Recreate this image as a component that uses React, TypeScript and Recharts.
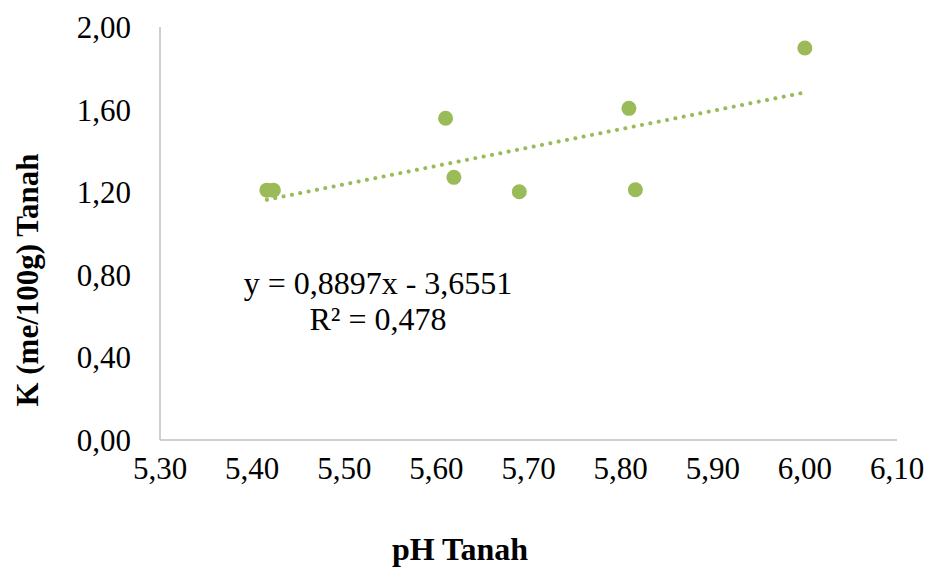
import { ScatterChart, Scatter, XAxis, YAxis, ReferenceLine } from "recharts";

// pH vs K measurements
const phValues = [5.416, 5.423, 5.61, 5.619, 5.69, 5.809, 5.816, 6.0];
const kValues = [1.21, 1.21, 1.558, 1.272, 1.202, 1.606, 1.212, 1.898];

const xTicks = [5.3, 5.4, 5.5, 5.6, 5.7, 5.8, 5.9, 6.0, 6.1];
const yTicks = [0, 0.4, 0.8, 1.2, 1.6, 2.0];

// linear trend (from the equation shown on the chart)
const TREND_SLOPE = 0.8897;
const TREND_INTERCEPT = -3.6551;
const TREND_R2 = 0.478;

const GREEN = "#9BBB59";
const AXIS = "#BFBFBF";
const FONT = "'Liberation Serif', 'Times New Roman', serif";

const W = 925;
const H = 568;

const comma = (v: number, d = 2) => v.toFixed(d).replace(".", ",");

const points = phValues.map((x, i) => ({ x, y: kValues[i] }));

const xMin = Math.min(...phValues);
const xMax = Math.max(...phValues);
const trendSeg = [
  { x: xMin, y: TREND_SLOPE * xMin + TREND_INTERCEPT },
  { x: xMax, y: TREND_SLOPE * xMax + TREND_INTERCEPT },
];

const Dot = (props: any) => {
  const { cx, cy } = props;
  if (cx == null || cy == null) return null;
  return <circle cx={cx} cy={cy} r={7.5} fill={GREEN} />;
};

export default function App() {
  const tickStyle = { fill: "#000", fontSize: 31, fontFamily: FONT };
  return (
    <div style={{ position: "absolute", left: 0, top: 0, width: W, height: H, background: "#fff" }}>
      <ScatterChart width={W} height={H} margin={{ top: 27, right: 28, left: 0, bottom: 0 }}>
        <XAxis
          type="number"
          dataKey="x"
          domain={[5.3, 6.1]}
          ticks={xTicks}
          tickFormatter={(v: number) => comma(v)}
          tick={tickStyle}
          tickLine={false}
          tickSize={0}
          tickMargin={17}
          height={128}
          stroke={AXIS}
          strokeWidth={1.5}
          interval={0}
        />
        <YAxis
          type="number"
          dataKey="y"
          domain={[0, 2]}
          ticks={yTicks}
          tickFormatter={(v: number) => comma(v)}
          tick={tickStyle}
          tickLine={false}
          tickSize={0}
          tickMargin={29}
          width={160}
          stroke={AXIS}
          strokeWidth={1.5}
          interval={0}
        />
        <ReferenceLine
          segment={trendSeg}
          stroke={GREEN}
          strokeWidth={4}
          strokeDasharray="0.1 8.4"
          strokeLinecap="round"
          ifOverflow="extendDomain"
        />
        <Scatter data={points} shape={<Dot />} isAnimationActive={false} />
      </ScatterChart>
      <svg
        width={W}
        height={H}
        style={{ position: "absolute", left: 0, top: 0, pointerEvents: "none" }}
        fontFamily={FONT}
      >
        <text x={378} y={294} fontSize={32} textAnchor="middle" fill="#000">
          {`y = ${comma(TREND_SLOPE, 4)}x - ${comma(-TREND_INTERCEPT, 4)}`}
        </text>
        <text x={378} y={330} fontSize={32} textAnchor="middle" fill="#000">
          {`R² = ${comma(TREND_R2, 3)}`}
        </text>
        <text x={460} y={560} fontSize={32} fontWeight="bold" textAnchor="middle" fill="#000">
          pH Tanah
        </text>
        <text
          x={38}
          y={280}
          fontSize={31}
          fontWeight="bold"
          textAnchor="middle"
          fill="#000"
          transform="rotate(-90 38 280)"
        >
          K (me/100g) Tanah
        </text>
      </svg>
    </div>
  );
}
